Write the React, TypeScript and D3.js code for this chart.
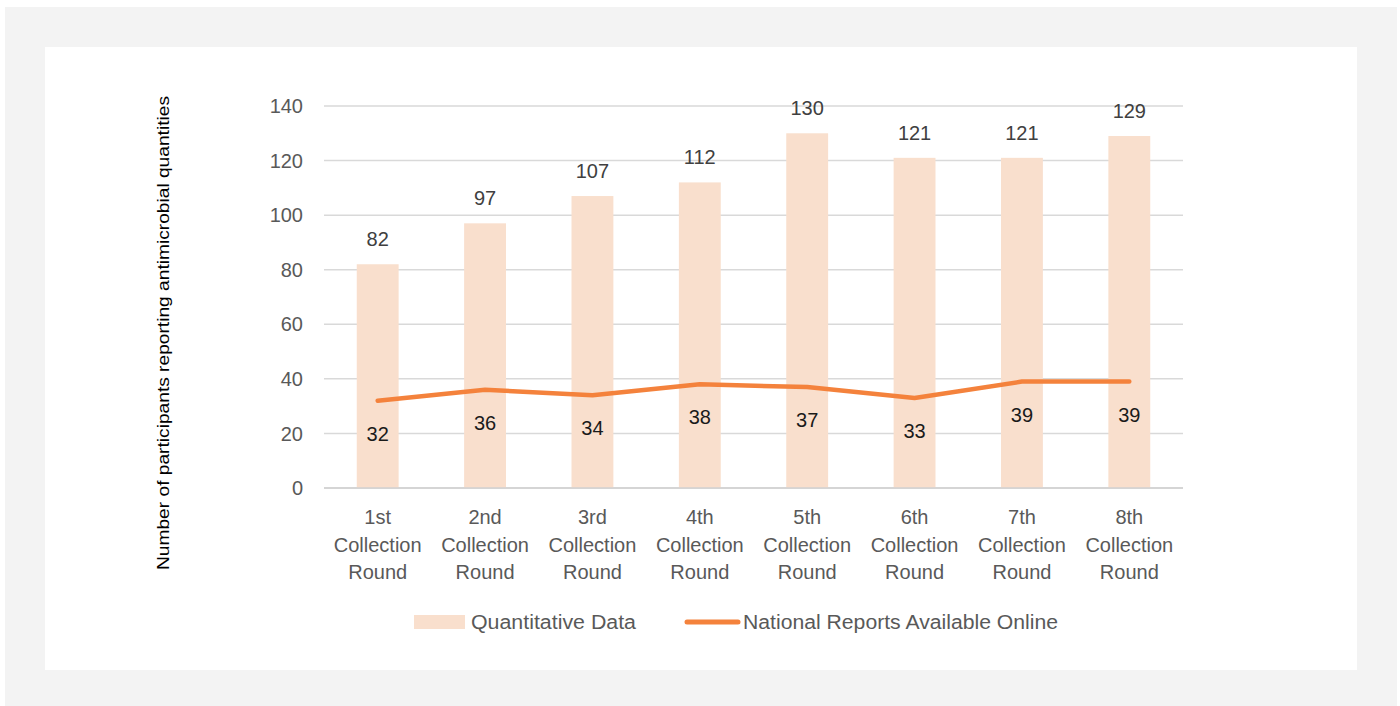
import React from "react";
import * as d3 from "d3";

const rounds = ["1st", "2nd", "3rd", "4th", "5th", "6th", "7th", "8th"];
const quantitative = [82, 97, 107, 112, 130, 121, 121, 129];
const nationalReports = [32, 36, 34, 38, 37, 33, 39, 39];
const yTicks = [0, 20, 40, 60, 80, 100, 120, 140];

const font = "'Liberation Sans', Arial, sans-serif";
const barColor = "#f9dfcd";
const lineColor = "#f4823c";

const App = () => {
  const x = d3.scaleBand<string>().domain(rounds).range([324, 1183]).paddingInner(0.61).paddingOuter(0.305);
  const y = d3.scaleLinear().domain([0, 140]).range([488, 106]);

  const cx = (i: number) => (x(rounds[i]) as number) + x.bandwidth() / 2;
  const line = d3
    .line<number>()
    .x((_, i) => cx(i))
    .y((d) => y(d));

  return (
    <svg width={1400} height={706} style={{ position: "absolute", left: 0, top: 0 }} fontFamily={font}>
      <rect x={5} y={7} width={1392} height={699} fill="#f3f3f3" />
      <rect x={45} y={47} width={1312} height={623} fill="#ffffff" />

      {/* grid */}
      {yTicks.map((t) => (
        <g key={t}>
          <line x1={324} x2={1183} y1={y(t)} y2={y(t)} stroke="#d9d9d9" strokeWidth={1.5} />
          <text x={303} y={y(t)} dy="0.36em" textAnchor="end" fontSize={20} fill="#595959">
            {t}
          </text>
        </g>
      ))}

      {/* bars */}
      {quantitative.map((v, i) => (
        <g key={rounds[i]}>
          <rect x={x(rounds[i])} y={y(v)} width={x.bandwidth()} height={y(0) - y(v)} fill={barColor} />
          <text x={cx(i)} y={y(v) - 18} textAnchor="middle" fontSize={20} fill="#404040">
            {v}
          </text>
        </g>
      ))}
      <line x1={324} x2={1183} y1={y(0)} y2={y(0)} stroke="#d0d0d0" strokeWidth={1.5} />

      {/* line */}
      <path d={line(nationalReports) || ""} fill="none" stroke={lineColor} strokeWidth={4.5} strokeLinecap="round" strokeLinejoin="round" />
      {nationalReports.map((v, i) => (
        <text key={i} x={cx(i)} y={y(v) + 40} textAnchor="middle" fontSize={20} fill="#1a1a1a">
          {v}
        </text>
      ))}

      {/* x labels */}
      {rounds.map((r, i) => (
        <text key={r} x={cx(i)} textAnchor="middle" fontSize={20} fill="#595959">
          <tspan x={cx(i)} y={524}>{r}</tspan>
          <tspan x={cx(i)} y={552}>Collection</tspan>
          <tspan x={cx(i)} y={579}>Round</tspan>
        </text>
      ))}

      {/* y title */}
      <text
        transform="translate(169,333) rotate(-90)"
        textAnchor="middle"
        fontSize={17}
        fill="#000"
        textLength={474}
        lengthAdjust="spacingAndGlyphs"
      >
        Number of participants reporting antimicrobial quantities
      </text>

      {/* legend */}
      <rect x={414} y={615} width={51} height={14} fill={barColor} />
      <text x={471} y={622} dy="0.36em" fontSize={20} fill="#595959" textLength={165} lengthAdjust="spacingAndGlyphs">
        Quantitative Data
      </text>
      <line x1={687} x2={738} y1={622} y2={622} stroke={lineColor} strokeWidth={5} strokeLinecap="round" />
      <text x={743} y={622} dy="0.36em" fontSize={20} fill="#595959" textLength={315} lengthAdjust="spacingAndGlyphs">
        National Reports Available Online
      </text>
    </svg>
  );
};

export default App;
